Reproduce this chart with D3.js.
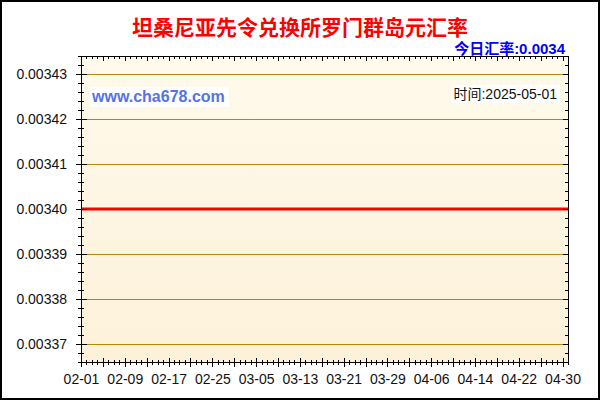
<!DOCTYPE html>
<html>
<head>
<meta charset="utf-8">
<script src="https://cdn.jsdelivr.net/npm/d3@7"></script>
<style>
  body { margin: 0; background: #fff; }
  svg { display: block; }
</style>
</head>
<body>
<script>
// chart data
var dates = ["2025-02-01", "2025-05-01"];
var rates = [0.0034, 0.0034];
var xLabels = ["02-01", "02-09", "02-17", "02-25", "03-05", "03-13",
               "03-21", "03-29", "04-06", "04-14", "04-22", "04-30"];
var yLabels = ["0.00337", "0.00338", "0.00339", "0.00340",
               "0.00341", "0.00342", "0.00343"];
var title = "坦桑尼亚先令兑换所罗门群岛元汇率";
var todayText = "今日汇率:0.0034";
var siteText = "www.cha678.com";
var timeText = "时间:2025-05-01";

var width = 600,
    height = 400;
// plot area edges (window.top is reserved, so prefixed names)
var pLeft = 81, pRight = 568, pTop = 56, pBottom = 362;

var parse = d3.timeParse("%Y-%m-%d");

var svg = d3.select("body")
    .append("svg")
    .attr("width", width)
    .attr("height", height);

// outer frame
svg.append("rect")
    .attr("x", 1).attr("y", 1)
    .attr("width", width - 2).attr("height", height - 2)
    .attr("fill", "#fff")
    .attr("stroke", "#000")
    .attr("stroke-width", 2);

var grad = svg.append("defs").append("linearGradient")
    .attr("id", "bg")
    .attr("x1", 0).attr("y1", 0).attr("x2", 0).attr("y2", 1);
grad.append("stop").attr("offset", "0%").attr("stop-color", "#fffaec");
grad.append("stop").attr("offset", "100%").attr("stop-color", "#fdf1d9");

// scales
var x = d3.scaleTime()
    .domain([parse(dates[0]), parse(dates[dates.length - 1])])
    .range([pLeft, pRight]);

var y = d3.scaleLinear()
    .domain([0.0034 * 0.99, 0.0034 * 1.01])
    .range([pBottom, pTop]);

svg.append("rect")
    .attr("x", pLeft).attr("y", pTop)
    .attr("width", pRight - pLeft).attr("height", pBottom - pTop)
    .attr("fill", "url(#bg)");

// horizontal grid
var yMajor = yLabels.map(Number);
svg.append("g").selectAll("line")
    .data(yMajor)
    .enter()
    .append("line")
    .attr("x1", pLeft).attr("x2", pRight)
    .attr("y1", function(d){ return Math.round(y(d)) + 0.5; })
    .attr("y2", function(d){ return Math.round(y(d)) + 0.5; })
    .attr("stroke", "#b8860b")
    .attr("stroke-width", 1);

// label boxes
svg.append("rect")
    .attr("x", 90).attr("y", 87).attr("width", 139).attr("height", 20)
    .attr("fill", "#fff");
svg.append("rect")
    .attr("x", 451).attr("y", 85).attr("width", 109).attr("height", 18)
    .attr("fill", "#fff");

svg.append("text")
    .attr("x", 92).attr("y", 102)
    .attr("font-family", "'Liberation Sans', Arial, sans-serif")
    .attr("font-size", 16)
    .attr("font-weight", "bold")
    .attr("fill", "#5573e6")
    .text(siteText);

svg.append("text")
    .attr("x", 557).attr("y", 99)
    .attr("text-anchor", "end")
    .attr("font-family", "'Liberation Sans', 'Noto Sans CJK SC', sans-serif")
    .attr("font-size", 14)
    .attr("fill", "#111")
    .text(timeText);

// rate line
var line = d3.line()
    .x(function(d, i){ return x(parse(dates[i])); })
    .y(function(d){ return y(d); });

svg.append("path")
    .datum(rates)
    .attr("d", line)
    .attr("fill", "none")
    .attr("stroke", "#ff0000")
    .attr("stroke-width", 3);

// plot frame
svg.append("rect")
    .attr("x", pLeft + 0.5).attr("y", pTop + 0.5)
    .attr("width", pRight - pLeft).attr("height", pBottom - pTop)
    .attr("fill", "none")
    .attr("stroke", "#000")
    .attr("stroke-width", 1);

// tick positions
var days = d3.timeDay.range(parse(dates[0]), d3.timeDay.offset(parse(dates[dates.length - 1]), 1));
var xMajor = days.filter(function(d, i){ return i % 4 === 0; });
var xMinor = days.filter(function(d, i){ return i % 4 !== 0; });
var yMinor = d3.range(0.003366, 0.003435, 0.000002).filter(function(v){
    return Math.abs(Math.round(v * 1e5) - v * 1e5) > 1e-6;
});

var ticks = svg.append("g").attr("stroke", "#000").attr("stroke-width", 1);

function xt(data, y1, y2){
    ticks.append("g").selectAll("line").data(data).enter().append("line")
        .attr("x1", function(d){ return Math.round(x(d)) + 0.5; })
        .attr("x2", function(d){ return Math.round(x(d)) + 0.5; })
        .attr("y1", y1).attr("y2", y2);
}
function yt(data, x1, x2){
    ticks.append("g").selectAll("line").data(data).enter().append("line")
        .attr("y1", function(d){ return Math.round(y(d)) + 0.5; })
        .attr("y2", function(d){ return Math.round(y(d)) + 0.5; })
        .attr("x1", x1).attr("x2", x2);
}
// bottom and top
xt(xMajor, pBottom - 4, pBottom + 5);
xt(xMinor, pBottom - 2, pBottom + 3);
xt(xMajor, pTop, pTop + 5);
xt(xMinor, pTop, pTop + 3);
// left and right
yt(yMajor, pLeft - 5, pLeft + 6);
yt(yMinor, pLeft - 3, pLeft + 3);
yt(yMajor, pRight - 5, pRight + 1);
yt(yMinor, pRight - 3, pRight + 1);

// axis labels
var xAxis = d3.axisBottom(x)
    .tickValues(xLabels.map(function(l){ return parse("2025-" + l); }))
    .tickFormat(d3.timeFormat("%m-%d"))
    .tickSize(0)
    .tickPadding(12);

var gx = svg.append("g")
    .attr("transform", "translate(0," + pBottom + ")")
    .call(xAxis);
gx.select(".domain").remove();
gx.selectAll("text")
    .attr("font-family", "'Liberation Sans', Arial, sans-serif")
    .attr("font-size", 14)
    .attr("fill", "#111");

var yAxis = d3.axisLeft(y)
    .tickValues(yMajor)
    .tickFormat(d3.format(".5f"))
    .tickSize(0)
    .tickPadding(14);

var gy = svg.append("g")
    .attr("transform", "translate(" + pLeft + ",0)")
    .call(yAxis);
gy.select(".domain").remove();
gy.selectAll("text")
    .attr("font-family", "'Liberation Sans', Arial, sans-serif")
    .attr("font-size", 14)
    .attr("fill", "#111");

// titles
svg.append("text")
    .attr("x", 300).attr("y", 35)
    .attr("text-anchor", "middle")
    .attr("font-family", "'Noto Sans CJK SC', sans-serif")
    .attr("font-size", 21)
    .attr("font-weight", "bold")
    .attr("fill", "#ff0000")
    .text(title);

svg.append("text")
    .attr("x", 565).attr("y", 54)
    .attr("text-anchor", "end")
    .attr("font-family", "'Liberation Sans', 'Noto Sans CJK SC', sans-serif")
    .attr("font-size", 15)
    .attr("font-weight", "bold")
    .attr("fill", "#0000ff")
    .text(todayText);
</script>
</body>
</html>
